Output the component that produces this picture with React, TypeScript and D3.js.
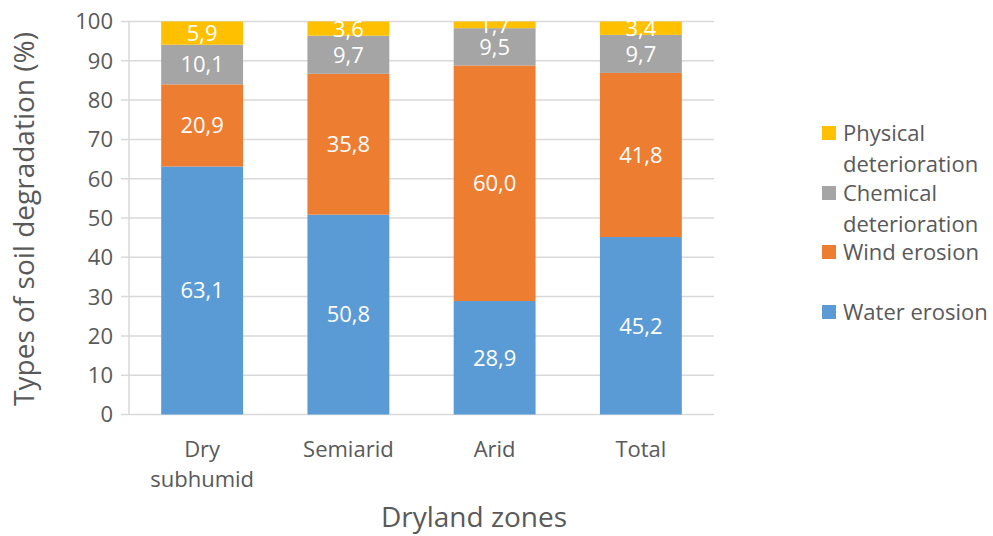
import React from "react";
import * as d3 from "d3";

const categories = ["Dry subhumid", "Semiarid", "Arid", "Total"];
const categoryLines = [["Dry", "subhumid"], ["Semiarid"], ["Arid"], ["Total"]];
const seriesNames = ["Water erosion", "Wind erosion", "Chemical deterioration", "Physical deterioration"];
const legendLines = [["Water erosion"], ["Wind erosion"], ["Chemical", "deterioration"], ["Physical", "deterioration"]];
const waterErosion = [63.1, 50.8, 28.9, 45.2];
const windErosion = [20.9, 35.8, 60.0, 41.8];
const chemicalDeterioration = [10.1, 9.7, 9.5, 9.7];
const physicalDeterioration = [5.9, 3.6, 1.7, 3.4];
const yTicks = [0, 10, 20, 30, 40, 50, 60, 70, 80, 90, 100];
const colors = ["#5B9BD5", "#ED7D31", "#A5A5A5", "#FFC000"];

const W = 993, H = 536;
const FONT = "'Open Sans', sans-serif";
const TEXT = "#595959";

export default function App() {
  const seriesValues = [waterErosion, windErosion, chemicalDeterioration, physicalDeterioration];
  const rows = categories.map((c, i) => {
    const r: any = { cat: c };
    seriesNames.forEach((s, j) => (r[s] = seriesValues[j][i]));
    return r;
  });
  const stacked = d3.stack().keys(seriesNames).offset(d3.stackOffsetExpand)(rows);

  const x = d3.scaleBand().domain(categories).range([129, 714]).paddingInner(0.44).paddingOuter(0.22);
  const y = d3.scaleLinear().domain([0, 1]).range([414.5, 21.5]);
  const fmt = (v: number) => v.toFixed(1).replace(".", ",");

  const legendY = [312, 252, 193, 133];

  return (
    <svg width={W} height={H} style={{ position: "absolute", left: 0, top: 0, background: "#fff" }} fontFamily={FONT}>
      <rect x={0} y={0} width={W} height={H} fill="#fff" />
      {yTicks.map((t) => (
        <g key={t}>
          <line x1={121} x2={714} y1={y(t / 100)} y2={y(t / 100)} stroke="#D9D9D9" strokeWidth={1.5} />
          <text x={113} y={y(t / 100)} dy="0.36em" textAnchor="end" fontSize={22} fill={TEXT}>{t}</text>
        </g>
      ))}
      <line x1={129} x2={129} y1={y(0)} y2={y(1)} stroke="#D9D9D9" strokeWidth={1.5} />
      {stacked.map((s, j) => (
        <g key={s.key}>
          {s.map((d, i) => (
            <g key={i}>
              <rect x={x(categories[i])} width={x.bandwidth()} y={y(d[1])} height={y(d[0]) - y(d[1])} fill={colors[j]} />
              <text x={(x(categories[i]) as number) + x.bandwidth() / 2} y={(y(d[0]) + y(d[1])) / 2} dy="0.36em" textAnchor="middle" fontSize={22} fill="#fff">
                {fmt(seriesValues[j][i])}
              </text>
            </g>
          ))}
        </g>
      ))}
      {categoryLines.map((lines, i) => (
        <text key={i} x={(x(categories[i]) as number) + x.bandwidth() / 2} y={449} textAnchor="middle" fontSize={22} fill={TEXT}>
          {lines.map((l, k) => (
            <tspan key={k} x={(x(categories[i]) as number) + x.bandwidth() / 2} dy={k === 0 ? "0.36em" : 30}>{l}</tspan>
          ))}
        </text>
      ))}
      <text x={474} y={517} dy="0.36em" textAnchor="middle" fontSize={28} fill={TEXT}>Dryland zones</text>
      <text transform={`translate(24,219) rotate(-90)`} dy="0.36em" textAnchor="middle" fontSize={28} fill={TEXT}>Types of soil degradation (%)</text>
      {legendLines.map((lines, j) => (
        <g key={j}>
          <rect x={822} y={legendY[j] - 7} width={14} height={14} fill={colors[j]} />
          <text x={843} y={legendY[j]} fontSize={22} fill={TEXT}>
            {lines.map((l, k) => (
              <tspan key={k} x={843} dy={k === 0 ? "0.36em" : 31}>{l}</tspan>
            ))}
          </text>
        </g>
      ))}
    </svg>
  );
}
